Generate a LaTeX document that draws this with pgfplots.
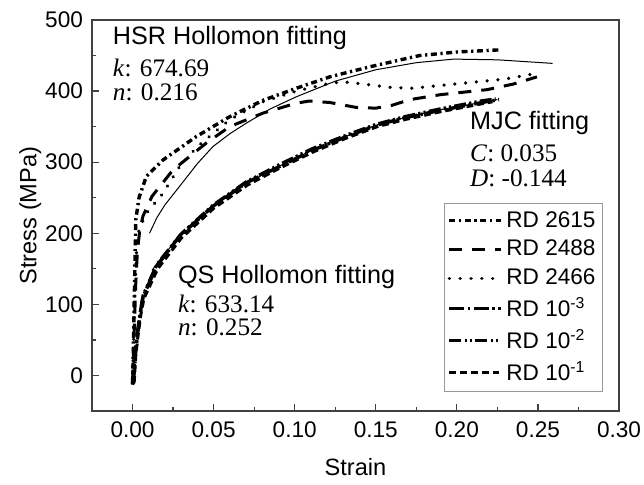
\documentclass[border=0pt]{standalone}
\usepackage{pgfplots}
\pgfplotsset{compat=1.18}
\usepackage{fontspec}
\setmainfont{Liberation Sans}
\newfontfamily\timesfont{Liberation Serif}
\definecolor{axgray}{RGB}{64,64,64}
\begin{document}
\begin{tikzpicture}
\begin{axis}[
  scale only axis,
  width=263.5pt, height=195.5pt,
  xmin=-0.025, xmax=0.30, ymin=-50, ymax=500,
  xtick={0,0.05,...,0.301}, ytick={0,100,...,500},
  minor x tick num=1, minor y tick num=1,
  xtick pos=bottom, ytick pos=left,
  tick align=inside,
  major tick length=3.5pt, minor tick length=2pt,
  every tick/.style={axgray, line width=0.6pt},
  axis line style={axgray, line width=0.75pt},
  /pgf/number format/assume math mode=true,
  x tick label style={/pgf/number format/fixed, /pgf/number format/fixed zerofill, /pgf/number format/precision=2, yshift=-2pt},
  y tick label style={/pgf/number format/fixed, xshift=-1pt},
  tick label style={font=\fontsize{11.3}{13}\selectfont},
  xlabel={Strain}, ylabel={Stress (MPa)},
  label style={font=\fontsize{11.8}{14}\selectfont},
  xlabel style={at={(axis description cs:0.5,-0.143)}, anchor=center},
  ylabel style={at={(axis description cs:-0.117,0.5)}, anchor=center, rotate=0},
  legend style={at={(0.9696,0.532)}, anchor=north east, draw=gray!80,
    font=\fontsize{11.3}{13}\selectfont, inner xsep=1.5pt, inner ysep=2pt, row sep=1.0pt,
    cells={anchor=west}},
  legend image code/.code={\draw[#1] (0.7pt,0pt) -- (26.3pt,0pt);},
  every axis plot/.append style={line width=1.5pt, black},
]
% RD 2615
\addplot[line width=1.7pt, dash pattern=on 3pt off 1.8pt on 1.1pt off 1.8pt] coordinates {
(0,-12)(0.0005,40)(0.001,100)(0.0015,160)(0.002,219)(0.004,250)(0.0085,280)(0.0187,303)
(0.0393,336)(0.0599,364)(0.0804,387)(0.101,404)(0.1216,420)(0.146,434)(0.177,450)(0.2,455)(0.2265,458)};
\addlegendentry{RD 2615}
% RD 2488
\addplot[dash pattern=on 6.5pt off 5pt] coordinates {
(0,-10)(0.001,60)(0.002,130)(0.003,175)(0.0045,205)(0.0064,224)(0.012,252)(0.0249,289)
(0.0455,327)(0.0599,350)(0.0804,369)(0.101,383)(0.109,386)(0.1216,384)(0.138,377)(0.15,376)
(0.16,380)(0.171,388)(0.19,395)(0.2185,402)(0.235,410)(0.2494,420)};
\addlegendentry{RD 2488}
% RD 2466
\addplot[line width=1.8pt, line cap=round, dash pattern=on 0.01pt off 5.4pt] coordinates {
(0,-10)(0.0008,60)(0.0015,120)(0.0025,175)(0.004,205)(0.0085,228)(0.0187,256)(0.029,294)
(0.04,322)(0.06,360)(0.0804,385)(0.101,400)(0.1216,411)(0.13,413)(0.142,410)(0.16,405)
(0.173,404)(0.19,408)(0.208,412)(0.23,417)(0.249,425)};
\addlegendentry{RD 2466}
% RD 10^-3
\addplot[line width=1.7pt, dash pattern=on 7.5pt off 1.8pt on 1.1pt off 1.8pt] coordinates {
(0,-13)(0.0015,30)(0.003,60)(0.0045,85)(0.0064,110)(0.0146,153)(0.029,196)(0.0496,238)
(0.0702,271)(0.0907,294)(0.1113,317)(0.1319,336)(0.1504,352)(0.167,362)(0.19,373)(0.218,385)(0.226,388)};
\addlegendentry{RD 10\textsuperscript{-3}}
% RD 10^-2
\addplot[line width=1.7pt, dash pattern=on 6pt off 1.6pt on 1.1pt off 1.6pt on 1.1pt off 1.6pt] coordinates {
(0.0005,-12)(0.0018,30)(0.0033,62)(0.0048,88)(0.0066,113)(0.015,156)(0.03,199)(0.05,240)
(0.07,272)(0.091,297)(0.111,319)(0.132,338)(0.15,353)(0.168,364)(0.19,375)(0.215,386)(0.224,389)};
\addlegendentry{RD 10\textsuperscript{-2}}
% RD 10^-1
\addplot[dash pattern=on 3.4pt off 2pt] coordinates {
(0.001,-10)(0.002,28)(0.0035,58)(0.005,84)(0.007,108)(0.0155,150)(0.03,193)(0.05,235)
(0.071,268)(0.091,292)(0.112,315)(0.132,334)(0.151,350)(0.168,360)(0.19,371)(0.215,382)(0.222,385)};
\addlegendentry{RD 10\textsuperscript{-1}}
% fits
\addplot[forget plot, line width=0.5pt, solid] coordinates {
(0.0105,200)(0.015,222)(0.02,240)(0.029,266)(0.04,298)(0.0496,322)(0.06,340)(0.0702,355)
(0.085,375)(0.101,392)(0.125,414)(0.15,430)(0.175,440)(0.198,445)(0.225,444)(0.259,439)};
\addplot[forget plot, line width=0.5pt, solid] coordinates {
(0.012,148)(0.02,172)(0.03,197)(0.05,238)(0.07,270)(0.09,294)(0.11,316)(0.13,335)(0.15,352)
(0.17,364)(0.19,374)(0.21,382)(0.225,388)};
% annotations
\node[anchor=west, inner sep=0pt, font=\fontsize{12.6}{15}\selectfont] at (axis cs:-0.0123,474.6) {HSR Hollomon fitting};
\node[anchor=west, inner sep=0pt, font=\timesfont\fontsize{12.6}{15}\selectfont] at (axis cs:-0.0123,432) {\textit{k}: 674.69};
\node[anchor=west, inner sep=0pt, font=\timesfont\fontsize{12.6}{15}\selectfont] at (axis cs:-0.0123,399) {\textit{n}: 0.216};
\node[anchor=west, inner sep=0pt, font=\fontsize{12.6}{15}\selectfont] at (axis cs:0.208,355) {MJC fitting};
\node[anchor=west, inner sep=0pt, font=\timesfont\fontsize{12.6}{15}\selectfont] at (axis cs:0.208,313) {\textit{C}: 0.035};
\node[anchor=west, inner sep=0pt, font=\timesfont\fontsize{12.6}{15}\selectfont] at (axis cs:0.208,278) {\textit{D}: -0.144};
\node[anchor=west, inner sep=0pt, font=\fontsize{12.6}{15}\selectfont] at (axis cs:0.0278,139) {QS Hollomon fitting};
\node[anchor=west, inner sep=0pt, font=\timesfont\fontsize{12.6}{15}\selectfont] at (axis cs:0.0278,101) {\textit{k}: 633.14};
\node[anchor=west, inner sep=0pt, font=\timesfont\fontsize{12.6}{15}\selectfont] at (axis cs:0.0278,68) {\textit{n}: 0.252};
\end{axis}
\pgfresetboundingbox
\path ([shift={(-46pt,-36.5pt)}]current axis.south west) rectangle ([shift={(12.5pt,10pt)}]current axis.north east);
\end{tikzpicture}
\end{document}
